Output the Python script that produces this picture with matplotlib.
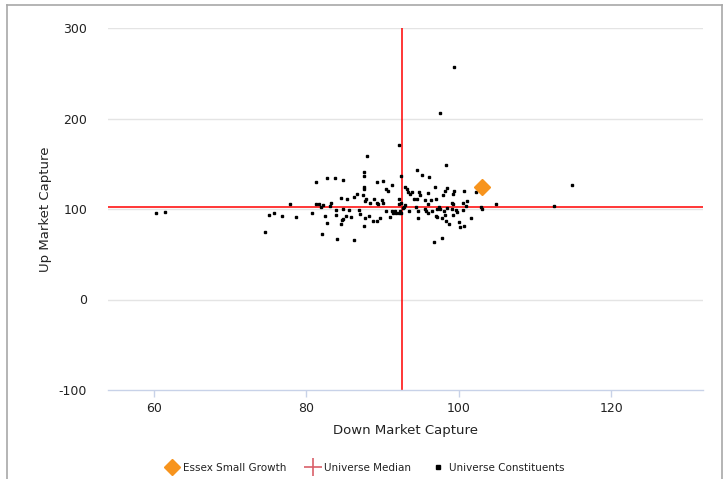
import matplotlib
matplotlib.use("Agg")
import matplotlib.pyplot as plt
from matplotlib.lines import Line2D

plt.rcParams['font.family'] = ['DejaVu Sans']
plt.rcParams['axes.unicode_minus'] = False

# ---- data ----
down_capture = [
    60.30, 61.48, 74.60, 75.12, 75.78, 76.83, 77.88, 78.66,
    81.29, 82.73, 83.78, 84.83, 84.56, 85.35, 86.27, 86.66, 81.29, 81.68,
    82.20, 81.94, 83.25, 83.12, 80.76, 83.91, 84.83, 85.61, 86.89, 87.02,
    83.91, 82.47, 85.22, 84.83, 84.69, 85.88, 82.73, 84.56, 82.07, 84.04, 86.27,
    92.17, 87.97, 87.58, 87.58, 92.43, 89.29, 90.07, 91.25, 87.58, 87.58,
    90.47, 90.73, 92.96, 93.14, 93.27, 93.57, 87.45, 87.84, 87.71, 88.89,
    88.37, 89.29, 89.94, 90.07, 89.42, 92.17, 92.43, 92.17, 92.83, 92.96,
    92.70, 90.47, 91.25, 91.38, 91.65, 91.78, 92.30, 92.17, 92.43, 93.44,
    87.71, 88.24, 88.76, 89.68, 89.29, 90.99, 87.58,
    98.33, 94.53, 95.19, 96.10, 96.89, 98.47, 98.20, 97.94, 99.38, 99.25,
    93.88, 94.79, 94.92, 95.97, 94.14, 94.53, 95.58, 96.37, 97.02, 95.97,
    99.12, 99.25, 94.40, 95.58, 95.71, 97.42, 97.55, 98.47, 97.15, 99.12,
    99.65, 99.78, 94.66, 95.97, 96.50, 98.07, 94.66, 97.02, 97.15, 97.81,
    98.20, 99.25, 100.07, 100.13, 98.33, 98.73, 97.81, 96.76,
    100.70, 102.26, 101.09, 100.56, 100.89, 102.93, 103.06, 104.89, 100.56,
    101.61, 100.70, 112.50, 114.86, 99.38, 97.55,
]
up_capture = [
    95.7, 96.8, 74.7, 93.5, 95.7, 92.4, 105.6, 91.3,
    129.9, 134.3, 134.3, 132.1, 112.3, 111.2, 113.4, 116.7, 105.6, 105.6,
    104.5, 102.3, 106.7, 103.4, 95.7, 99.0, 100.1, 99.0, 99.3, 94.9,
    93.5, 92.4, 92.4, 89.1, 88.0, 91.3, 84.6, 83.5, 72.5, 67.0, 65.9,
    170.8, 159.0, 141.3, 136.9, 136.9, 129.9, 131.0, 126.6, 124.4, 122.2,
    122.2, 120.0, 124.4, 122.2, 118.9, 116.5, 115.6, 111.2, 108.9, 111.2,
    106.7, 106.7, 110.0, 106.7, 105.6, 111.2, 106.7, 105.6, 102.3, 104.1,
    101.2, 97.9, 97.9, 95.7, 97.9, 95.7, 97.9, 95.7, 95.7, 97.9,
    90.2, 92.4, 86.9, 90.2, 86.9, 91.3, 81.3,
    148.7, 143.2, 137.7, 135.4, 124.4, 123.3, 120.0, 115.6, 120.0, 116.7,
    118.9, 118.9, 115.6, 117.8, 111.2, 111.2, 110.0, 110.0, 111.2, 105.6,
    106.7, 105.6, 102.3, 100.1, 97.9, 102.3, 100.1, 101.2, 100.1, 100.1,
    99.0, 96.8, 97.9, 95.7, 97.9, 97.9, 90.2, 92.4, 91.3, 90.2,
    93.5, 93.5, 86.1, 80.6, 86.9, 83.5, 68.1, 63.7,
    120.0, 118.9, 108.9, 106.7, 103.4, 102.3, 100.1, 105.6, 99.0,
    90.2, 81.3, 103.4, 126.6, 256.9, 206.1,
]
fund_name = "Essex Small Growth"
fund_down = [103.06]
fund_up = [124.4]
median_down = 92.52
median_up = 102.6

x_ticks = [60, 80, 100, 120]
y_ticks = [-100, 0, 100, 200, 300]
x_label = "Down Market Capture"
y_label = "Up Market Capture"
legend_labels = [fund_name, "Universe Median", "Universe Constituents"]

# ---- figure ----
W, H = 728, 479
fig = plt.figure(figsize=(W / 100, H / 100), dpi=100)
ax = fig.add_axes([108 / W, 1 - 390 / H, (703 - 108) / W, (390 - 28) / H])

ax.set_xlim(54.0, 132.0)
ax.set_ylim(-100, 300)

orange = '#F7941D'
red = '#FF0000'
text_c = '#222222'

# grid (horizontal only)
for yv in y_ticks[1:]:
    ax.axhline(yv, color='#E4E4E4', lw=1.0, zorder=0)

ax.axhline(median_up, color=red, lw=1.1, zorder=2)
ax.axvline(median_down, color=red, lw=1.1, zorder=2)

ax.plot(down_capture, up_capture, ls='none', marker='s', ms=2.0,
        color='black', zorder=3)
ax.plot(fund_down, fund_up, ls='none', marker='D', ms=8.5,
        color=orange, zorder=4)

for s in ['left', 'right', 'top']:
    ax.spines[s].set_visible(False)
ax.spines['bottom'].set_color('#C8D2E8')
ax.spines['bottom'].set_linewidth(1.0)

ax.set_xticks(x_ticks)
ax.set_yticks(y_ticks)
ax.tick_params(axis='x', colors='#C8D2E8', length=5, width=1, pad=4,
               labelcolor=text_c, labelsize=9)
ax.tick_params(axis='y', length=0, pad=15, labelcolor=text_c, labelsize=9)

ax.set_xlabel(x_label, fontsize=9.5, color=text_c, labelpad=6)
ax.set_ylabel(y_label, fontsize=9.5, color=text_c, labelpad=5)

handles = [
    Line2D([], [], ls='none', marker='D', ms=8, color=orange),
    Line2D([], [], ls='none', marker='+', ms=13, mew=1.2, color='#D9606A'),
    Line2D([], [], ls='none', marker='s', ms=2.5, color='black'),
]
fig.legend(handles, legend_labels, loc='center', bbox_to_anchor=(0.502, 1 - 468 / H),
           ncol=3, frameon=False, fontsize=7.5, handlelength=1.1,
           handletextpad=0.5, columnspacing=2.0, labelcolor=text_c)

# outer frame
border = '#A8A8A8'
fig.add_artist(Line2D([7 / W, 7 / W], [0, 1 - 5 / H], color=border, lw=1.2,
                      transform=fig.transFigure))
fig.add_artist(Line2D([7 / W, 722 / W], [1 - 5 / H, 1 - 5 / H], color=border, lw=1.2,
                      transform=fig.transFigure))
fig.add_artist(Line2D([722 / W, 722 / W], [0, 1 - 5 / H], color=border, lw=1.2,
                      transform=fig.transFigure))

fig.savefig('out.png', dpi=100)
